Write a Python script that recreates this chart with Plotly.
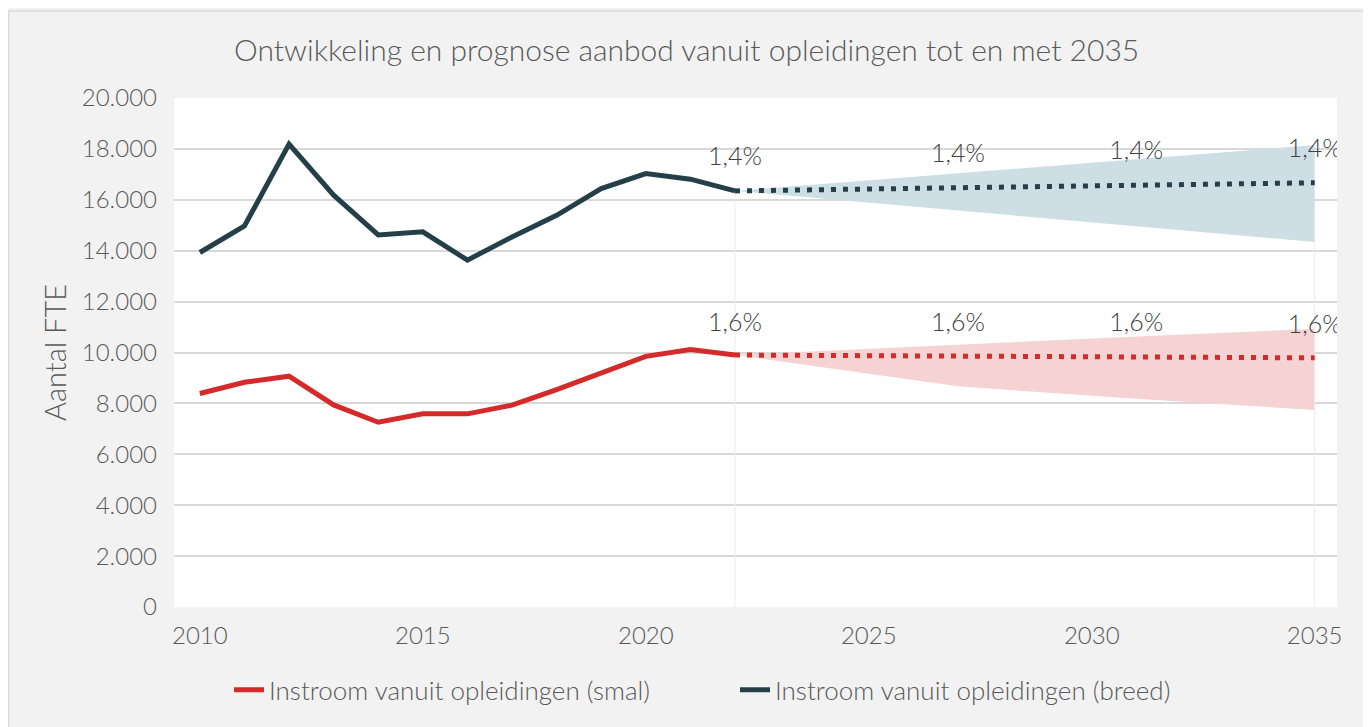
import plotly.graph_objects as go

# Historische instroom
years = list(range(2010, 2023))
smal = [8390, 8830, 9070, 7940, 7260, 7590, 7590, 7930, 8540, 9220, 9850, 10120, 9900]
breed = [13930, 14970, 18190, 16180, 14620, 14740, 13630, 14540, 15390, 16440, 17030, 16810, 16350]

# Prognose (middenwaarde en bandbreedte)
prog_years = [2022, 2027, 2031, 2035]
smal_prog = [9900, 9860, 9820, 9790]
smal_hoog = [9900, 10310, 10630, 10930]
smal_laag = [9900, 8670, 8180, 7740]
breed_prog = [16350, 16470, 16570, 16670]
breed_hoog = [16350, 17040, 17600, 18150]
breed_laag = [16350, 15580, 14960, 14340]

# Groeipercentages als labels
smal_label = ["1,6%", "1,6%", "1,6%", "1,6%"]
smal_label_y = [11100, 11100, 11100, 11030]
breed_label = ["1,4%", "1,4%", "1,4%", "1,4%"]
breed_label_y = [17600, 17730, 17830, 17930]

RED = "#d42a2a"
DARK = "#243f48"
FONT = "Lato"
GREY = "#595959"
W = 300  # lichte letter

fig = go.Figure()

# bandbreedtes
fig.add_trace(go.Scatter(x=prog_years, y=breed_laag, mode="lines", line=dict(width=0),
                         showlegend=False, hoverinfo="skip"))
fig.add_trace(go.Scatter(x=prog_years, y=breed_hoog, mode="lines", line=dict(width=0),
                         fill="tonexty", fillcolor="#cddfe4", showlegend=False, hoverinfo="skip"))
fig.add_trace(go.Scatter(x=prog_years, y=smal_laag, mode="lines", line=dict(width=0),
                         showlegend=False, hoverinfo="skip"))
fig.add_trace(go.Scatter(x=prog_years, y=smal_hoog, mode="lines", line=dict(width=0),
                         fill="tonexty", fillcolor="#f5d3d3", showlegend=False, hoverinfo="skip"))

# dunne verticale lijnen bij begin en eind van de prognose
vx, vy = [], []
for i in (0, -1):
    vx += [prog_years[i], prog_years[i], None]
    vy += [0, breed_laag[i], None]
fig.add_trace(go.Scatter(x=vx, y=vy, mode="lines", line=dict(color="#ececec", width=1),
                         showlegend=False, hoverinfo="skip"))

# prognoselijnen (gestippeld)
fig.add_trace(go.Scatter(x=prog_years, y=breed_prog, mode="lines",
                         line=dict(color=DARK, width=5, dash="5px,7px"), showlegend=False))
fig.add_trace(go.Scatter(x=prog_years, y=smal_prog, mode="lines",
                         line=dict(color=RED, width=5, dash="5px,7px"), showlegend=False))

# historische lijnen
fig.add_trace(go.Scatter(x=years, y=smal, mode="lines", name="Instroom vanuit opleidingen (smal)",
                         line=dict(color=RED, width=5)))
fig.add_trace(go.Scatter(x=years, y=breed, mode="lines", name="Instroom vanuit opleidingen (breed)",
                         line=dict(color=DARK, width=5)))

# labels
lab_font = dict(family=FONT, size=25, color="#404040", weight=W)
fig.add_trace(go.Scatter(x=prog_years, y=breed_label_y, mode="text", text=breed_label,
                         textfont=lab_font, showlegend=False, hoverinfo="skip"))
fig.add_trace(go.Scatter(x=prog_years, y=smal_label_y, mode="text", text=smal_label,
                         textfont=lab_font, showlegend=False, hoverinfo="skip"))

fig.update_layout(
    width=1371, height=727,
    paper_bgcolor="#f2f2f2",
    plot_bgcolor="white",
    separators=",.",
    margin=dict(l=166, r=42, t=90, b=128),
    font=dict(family=FONT, color=GREY, size=24, weight=W),
    title=dict(text="Ontwikkeling en prognose aanbod vanuit opleidingen tot en met 2035",
               x=0.495, xref="container", xanchor="center",
               y=0.942, yref="container", yanchor="middle",
               font=dict(family=FONT, size=30, color=GREY, weight=W)),
    xaxis=dict(range=[2009.42, 2035.5], tickvals=[2010, 2015, 2020, 2025, 2030, 2035],
               showgrid=False, zeroline=False, showline=False, ticks="",
               ticklabelstandoff=12,
               tickfont=dict(size=24, color=GREY, weight=W)),
    yaxis=dict(range=[0, 20000], dtick=2000, tickformat=",d", showgrid=True,
               gridcolor="#d9d9d9", gridwidth=1.5, zeroline=False, showline=False,
               ticks="", ticklabelstandoff=16,
               tickfont=dict(size=24, color=GREY, weight=W),
               title=dict(text="Aantal FTE", font=dict(size=29, color=GREY, weight=W), standoff=6)),
    legend=dict(orientation="h", x=0.0473, xanchor="left", y=-0.163, yanchor="middle",
                traceorder="normal", entrywidth=461,
                font=dict(size=26, color=GREY, weight=W), bgcolor="rgba(0,0,0,0)"),
    shapes=[dict(type="rect", xref="paper", yref="paper", x0=-0.1423, x1=1.0258,
                 y0=-0.3, y1=1.171, fillcolor="rgba(0,0,0,0)",
                 line=dict(color="#d9d9d9", width=1.5))],
)

fig.write_html("out.html")
